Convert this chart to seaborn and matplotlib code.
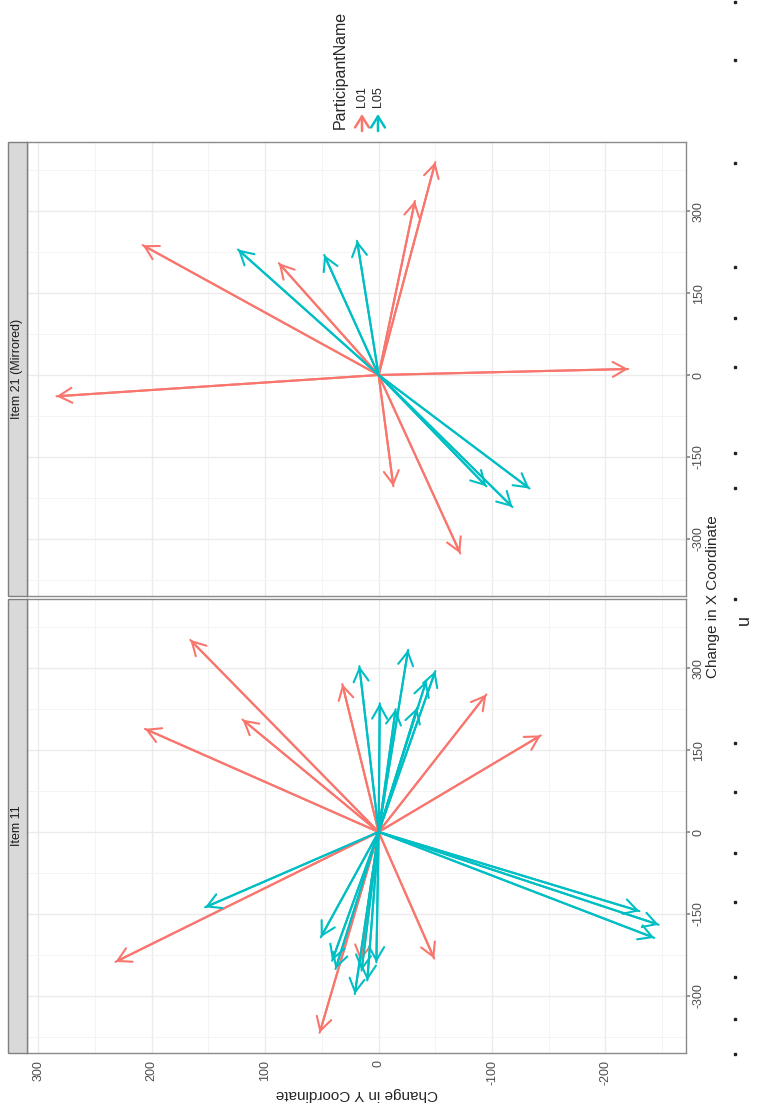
import numpy as np
import pandas as pd
import matplotlib
matplotlib.use("Agg")
import matplotlib.pyplot as plt
from matplotlib.patches import Rectangle, FancyArrowPatch
import seaborn as sns

# arrow end points (start is always 0,0)
participants = ["L01", "L05"]
palette = {"L01": "#F8766D", "L05": "#00BFC4"}

item11_l01_dx = [352, 189, 206, 271, 252, 177, -232, -368, -238, -236]
item11_l01_dy = [166, 206, 120, 32, -95, -143, -49, 52, 232, 16]
item11_l05_dx = [334, 304, 295, 277, 236, 225, 228, -138, -193, -236,
                 -251, -297, -272, -254, -239, -145, -170, -194]
item11_l05_dy = [-26, 17, -50, -42, -1, -15, -34, 153, 51, 41,
                 38, 21, 10, 15, 2, -230, -247, -243]

item21_l01_dx = [390, 319, 238, 205, 11, -39, -204, -327]
item21_l01_dy = [-50, -32, 208, 88, -220, 284, -13, -72]
item21_l05_dx = [230, 220, 246, -204, -242, -208]
item21_l05_dy = [124, 48, 19, -95, -118, -133]

x_major = [-300, -150, 0, 150, 300]
x_minor = [-375, -225, -75, 75, 225, 375]
y_major = [-200, -100, 0, 100, 200, 300]
y_minor = [-250, -150, -50, 50, 150, 250]


def make_df(item, l01_dx, l01_dy, l05_dx, l05_dy):
    rows = []
    k = 0
    for name, dxs, dys in [("L01", l01_dx, l01_dy), ("L05", l05_dx, l05_dy)]:
        for dx, dy in zip(dxs, dys):
            rows.append(dict(item=item, arrow=k, ParticipantName=name, dx=0, dy=0, end=False))
            rows.append(dict(item=item, arrow=k, ParticipantName=name, dx=dx, dy=dy, end=True))
            k += 1
    return pd.DataFrame(rows)


df = pd.concat([
    make_df("Item 11", item11_l01_dx, item11_l01_dy, item11_l05_dx, item11_l05_dy),
    make_df("Item 21 (Mirrored)", item21_l01_dx, item21_l01_dy, item21_l05_dx, item21_l05_dy),
], ignore_index=True)

sns.set_theme(style="white")
plt.rcParams["font.family"] = ["Liberation Sans", "DejaVu Sans"]
plt.rcParams["axes.unicode_minus"] = False

W, H = 759, 1114
fig = plt.figure(figsize=(W / 100, H / 100), dpi=100)


def fx(px):
    return px / W


def fy(py):
    return 1 - py / H


# the page is printed rotated: original x axis runs upward, original y axis runs leftward
panels = [("Item 21 (Mirrored)", 142, 596, False), ("Item 11", 599, 1053, True)]
for item, top, bottom, show_y in panels:
    ax = fig.add_axes([fx(27), fy(bottom), (686 - 27) / W, (bottom - top) / H])
    sub = df[df["item"] == item]
    sns.lineplot(data=sub, x="dy", y="dx", hue="ParticipantName", units="arrow",
                 estimator=None, sort=False, palette=palette, legend=False,
                 lw=1.5, ax=ax)
    for _, r in sub[sub["end"]].iterrows():
        ax.annotate("", xy=(r["dy"], r["dx"]), xytext=(0, 0),
                    arrowprops=dict(arrowstyle="->,head_length=0.8,head_width=0.45",
                                    color=palette[r["ParticipantName"]], lw=1.5,
                                    shrinkA=0, shrinkB=0))
    ax.set_xlim(310, -271)
    ax.set_ylim(-405, 427)
    ax.set_xticks(y_major)
    ax.set_xticks(y_minor, minor=True)
    ax.set_yticks(x_major)
    ax.set_yticks(x_minor, minor=True)
    ax.grid(which="major", color="#ebebeb", lw=1.0)
    ax.grid(which="minor", color="#f3f3f3", lw=0.6)
    ax.set_axisbelow(True)
    ax.set_xlabel("")
    ax.set_ylabel("")
    for s in ax.spines.values():
        s.set_color("#8a8a8a")
        s.set_linewidth(1.0)
    ax.yaxis.tick_right()
    ax.tick_params(axis="y", which="major", length=3, color="#8a8a8a", pad=2,
                   labelsize=9, labelcolor="#4d4d4d", labelrotation=90)
    for lab in ax.get_yticklabels():
        lab.set_va("center")
        lab.set_ha("left")
    if show_y:
        ax.tick_params(axis="x", which="major", length=3, color="#8a8a8a", pad=2,
                       labelsize=9, labelcolor="#4d4d4d", labelrotation=90)
    else:
        ax.tick_params(axis="x", which="major", length=0, labelbottom=False)
    ax.tick_params(which="minor", length=0)

    # facet strip
    fig.add_artist(Rectangle((fx(8), fy(bottom)), fx(27) - fx(8), (bottom - top) / H,
                             transform=fig.transFigure, facecolor="#d9d9d9",
                             edgecolor="#7f7f7f", lw=1.0))
    fig.text(fx(17.5), fy((top + bottom) / 2), item, rotation=90, ha="center",
             va="center", fontsize=9, color="#1a1a1a")

fig.text(fx(713), fy(597), "Change in X Coordinate", rotation=90,
         ha="center", va="center", fontsize=11)
fig.text(fx(356.5), fy(1094), "Change in Y Coordinate", rotation=180,
         ha="center", va="center", fontsize=11)

# legend
fig.text(fx(340), fy(129), "ParticipantName", rotation=90, ha="center",
         va="bottom", fontsize=11.5)
for name, xp in zip(participants, [362, 378]):
    fig.text(fx(xp), fy(107), name, rotation=90, ha="center", va="bottom", fontsize=9)
    fig.add_artist(FancyArrowPatch((fx(xp), fy(131)), (fx(xp), fy(114)),
                                   transform=fig.transFigure,
                                   arrowstyle="->,head_length=0.8,head_width=0.5",
                                   mutation_scale=10, color=palette[name], lw=1.8,
                                   shrinkA=0, shrinkB=0))

# scan marks along the page edge
page_dots = [2, 60, 163, 267, 318, 367, 453, 488, 599, 743, 792, 853, 902, 977, 1019, 1054]
for yp in page_dots:
    fig.add_artist(Rectangle((fx(734), fy(yp + 1)), 2 / W, 2 / H,
                             transform=fig.transFigure, color="#222222"))
fig.text(fx(744), fy(620), "u", rotation=90, ha="center", va="center", fontsize=13)

fig.savefig("out.png", dpi=100)
